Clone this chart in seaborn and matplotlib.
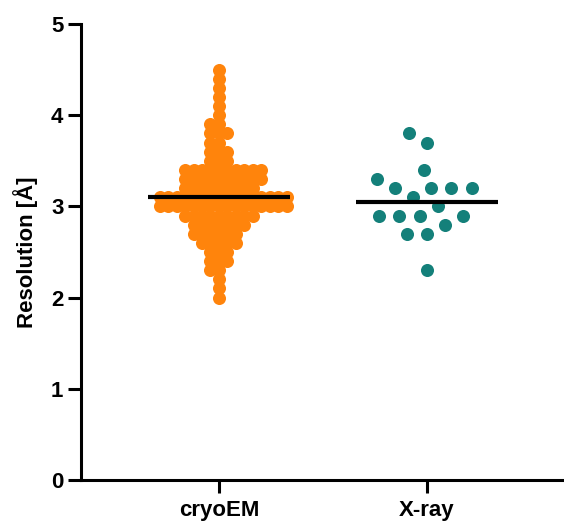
import numpy as np
import pandas as pd
import matplotlib
matplotlib.use("Agg")
import matplotlib.pyplot as plt
import seaborn as sns

groups = ["cryoEM", "X-ray"]
colors = ["#FF840C", "#14807A"]

# cryoEM resolutions (0.1 A bins) and number of structures per bin
cryo_res = [2.0, 2.1, 2.2, 2.3, 2.4, 2.5, 2.6, 2.7, 2.8, 2.9, 3.0, 3.1, 3.2,
            3.3, 3.4, 3.5, 3.6, 3.7, 3.8, 3.9, 4.0, 4.1, 4.2, 4.3, 4.4, 4.5]
cryo_counts = [1, 1, 1, 2, 3, 3, 5, 6, 7, 9, 16, 16, 9,
               10, 10, 3, 3, 2, 3, 2, 1, 1, 1, 1, 1, 1]

xray_res = [3.8, 3.7, 3.4, 3.3, 3.2, 3.2, 3.2, 3.2, 3.1, 3.0,
            2.9, 2.9, 2.9, 2.9, 2.8, 2.7, 2.7, 2.3]

# swarm spacing (pt) used to lay out the points, and the drawn dot size (pt)
spacing = {"cryoEM": 5.8, "X-ray": 14}
dot_size = 9.4

sns.set_style("ticks")
plt.rcParams['font.family'] = ['Liberation Sans', 'DejaVu Sans']
plt.rcParams['font.weight'] = 'bold'
plt.rcParams['axes.labelweight'] = 'bold'
for key in ['text.color', 'axes.labelcolor', 'xtick.color', 'ytick.color', 'axes.edgecolor']:
    plt.rcParams[key] = 'black'

cryo_values = np.repeat(cryo_res, cryo_counts)
df = pd.DataFrame({
    "method": ["cryoEM"] * len(cryo_values) + ["X-ray"] * len(xray_res),
    "resolution": np.concatenate([cryo_values, xray_res]),
})

fig = plt.figure(figsize=(5.64, 5.25), dpi=100)
ax = fig.add_axes([81 / 564, 45 / 525, 1 - 81 / 564, 456 / 525])

for grp, col in zip(groups, colors):
    sns.swarmplot(data=df[df["method"] == grp], x="method", y="resolution",
                  order=groups, color=col, size=spacing[grp], linewidth=0,
                  ax=ax)

# median line only
sns.boxplot(data=df, x="method", y="resolution", order=groups, width=0.68,
            showbox=False, showcaps=False, showfliers=False,
            whiskerprops={'visible': False},
            medianprops={'color': 'black', 'linewidth': 3.0, 'zorder': 5},
            ax=ax)

ax.set_ylim(0, 5)
ax.set_yticks([0, 1, 2, 3, 4, 5])
ax.set_xlim(-0.663, 1.659)
ax.set_xlabel("")
ax.set_ylabel("Resolution [Å]", fontsize=16, fontweight='bold', labelpad=9)

sns.despine(ax=ax)
for s in ["left", "bottom"]:
    ax.spines[s].set_linewidth(2.2)
    ax.spines[s].set_color('black')
ax.tick_params(axis='both', length=9.2, width=2.2, labelsize=16, pad=3.5,
               color='black', labelcolor='black')
ax.tick_params(axis='x', pad=5, labelsize=16)
for lab in ax.get_xticklabels() + ax.get_yticklabels():
    lab.set_fontweight('bold')

# lay out the swarms, then keep those positions and draw bigger dots
fig.canvas.draw()
for coll in ax.collections:
    if 'draw' in vars(coll):
        del coll.draw
    coll.set_sizes([dot_size ** 2])

fig.savefig("out.png", dpi=100)
